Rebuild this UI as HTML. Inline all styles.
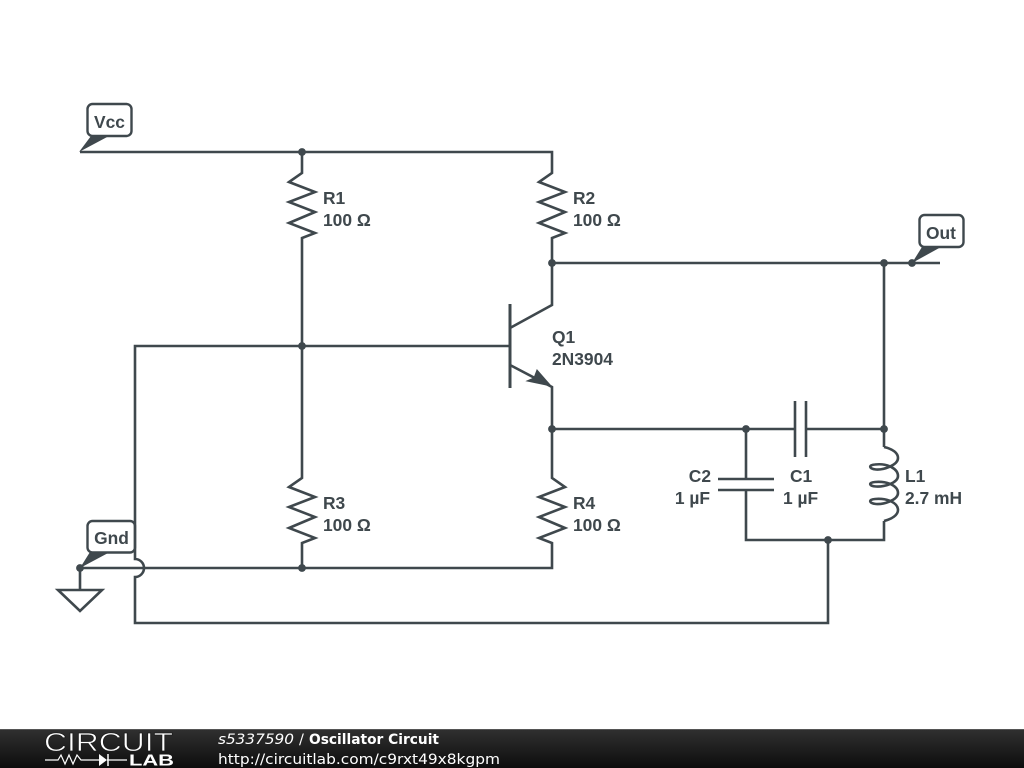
<!DOCTYPE html>
<html><head><meta charset="utf-8"><style>
html,body{margin:0;padding:0;background:#fff;width:1024px;height:768px;overflow:hidden}
svg{display:block}
.w{fill:none;stroke:#3f484d;stroke-width:2.6;stroke-linejoin:miter}
.t{font-family:"Liberation Sans",sans-serif;font-weight:bold;font-size:17.4px;fill:#3f484d}
.f{font-family:"DejaVu Sans",sans-serif;font-size:14.5px;fill:#fff}
</style></head><body>
<svg width="1024" height="768" viewBox="0 0 1024 768" xmlns="http://www.w3.org/2000/svg">
<defs><linearGradient id="g" x1="0" y1="0" x2="0" y2="1"><stop offset="0" stop-color="#303030"/><stop offset="1" stop-color="#0d0d0d"/></linearGradient></defs>
<rect width="1024" height="768" fill="#fff"/>
<g fill="#fff" stroke="#3f484d" stroke-width="2.4">
<rect x="87.500" y="104" width="44" height="32" rx="5"/>
<rect x="87.500" y="521" width="47.500" height="31.500" rx="5"/>
<rect x="919.500" y="215" width="44" height="32" rx="5"/>
</g>
<g class="w">
<path d="M80 152H552V173L539 182L565 192L539 202L565 212L539 223L565 233L552 238V305L510 328"/>
<path d="M302 152V173L289 182L315 192L289 202L315 212L289 223L315 233L302 238V478L289 487L315 497L289 507L315 517L289 528L315 538L302 543V568"/>
<path d="M510 304V388" stroke-width="3"/>
<path d="M510 346H135V559A9 9 0 0 1 135 577V623H828V540"/>
<path d="M80 568H552V543L539 538L565 528L539 517L565 507L539 497L565 487L552 478V387L510 365"/>
<path d="M552 263H940"/>
<path d="M884 263V447"/>
<path d="M552 429H795M806 429H884"/>
<path d="M795 401V457M806 401V457"/>
<path d="M746 429V479M746 490V540H884V521"/>
<path d="M718 479H774M718 490H774"/>
<path d="M884 447C893 449 898 453 898 458C898 465 884 470 876 469.500C869 469 868 465 875 464.500C888 463 898 469 898 476C898 483 884 487 876 486.500C869 486 868 482.500 875 482C888 481 898 486 898 493C898 500 884 504.500 876 504C869 503.500 868 499.500 875 499C888 498 898 503 898 510C898 515 892 519 884 521"/>
<path d="M80 568V590"/>
<path d="M58 590H102L80 611Z"/>
</g>
<path d="M551 386L537 370L534 378L527 381Z" fill="#3f484d" stroke="#3f484d" stroke-width="1"/>
<g fill="#3f484d">
<circle cx="302" cy="152" r="3.9"/><circle cx="302" cy="346" r="3.9"/><circle cx="302" cy="568" r="3.9"/>
<circle cx="552" cy="263" r="3.9"/><circle cx="552" cy="429" r="3.9"/><circle cx="746" cy="429" r="3.9"/>
<circle cx="884" cy="263" r="3.9"/><circle cx="884" cy="429" r="3.9"/><circle cx="828" cy="540" r="3.9"/>
<circle cx="912" cy="263" r="3.9"/><circle cx="80" cy="568" r="3.9"/>
<path d="M79 152L91 136H109Z"/>
<path d="M80 568L90 552H110Z"/>
<path d="M912 263L922 247H941Z"/>
</g>
<g class="t">
<text x="109.500" y="128" text-anchor="middle">Vcc</text>
<text x="111.500" y="544" text-anchor="middle">Gnd</text>
<text x="941" y="239" text-anchor="middle">Out</text>
<text x="323" y="204">R1</text><text x="323" y="226">100 Ω</text>
<text x="573" y="204">R2</text><text x="573" y="226">100 Ω</text>
<text x="323" y="509">R3</text><text x="323" y="531">100 Ω</text>
<text x="573" y="509">R4</text><text x="573" y="531">100 Ω</text>
<text x="552" y="343">Q1</text><text x="552" y="365">2N3904</text>
<text x="711" y="482" text-anchor="end">C2</text><text x="710" y="504" text-anchor="end">1 µF</text>
<text x="790" y="482">C1</text><text x="783" y="504">1 µF</text>
<text x="905" y="482">L1</text><text x="905" y="504">2.7 mH</text>
</g>
<rect y="729" width="1024" height="39" fill="url(#g)"/>
<rect y="729" width="1024" height="1" fill="#555"/>
<g fill="none" stroke="#fff">
<path d="M45 760H58L61 755L65 764L69 755L73 764L77 755L81 760H99M107 760H127" stroke-width="1.200"/>
<path d="M108 754V766" stroke-width="1.500"/>
</g>
<path d="M99 754L107 760L99 766Z" fill="#fff"/>
<text x="44" y="751" font-family="'Liberation Sans',sans-serif" font-size="26" fill="#fff" stroke="#1c1c1c" stroke-width="0.700" textLength="129" lengthAdjust="spacingAndGlyphs">CIRCUIT</text>
<text x="129" y="765.500" font-family="'Liberation Sans',sans-serif" font-size="16" font-weight="bold" fill="#fff" textLength="45" lengthAdjust="spacingAndGlyphs">LAB</text>
<text class="f" x="218" y="744" font-style="italic" textLength="76" lengthAdjust="spacingAndGlyphs">s5337590</text>
<text class="f" x="299" y="744">/</text>
<text class="f" x="309" y="744" font-weight="bold" textLength="130" lengthAdjust="spacingAndGlyphs">Oscillator Circuit</text>
<text class="f" x="218" y="764" textLength="282" lengthAdjust="spacingAndGlyphs">http://circuitlab.com/c9rxt49x8kgpm</text>
</svg>
</body></html>
